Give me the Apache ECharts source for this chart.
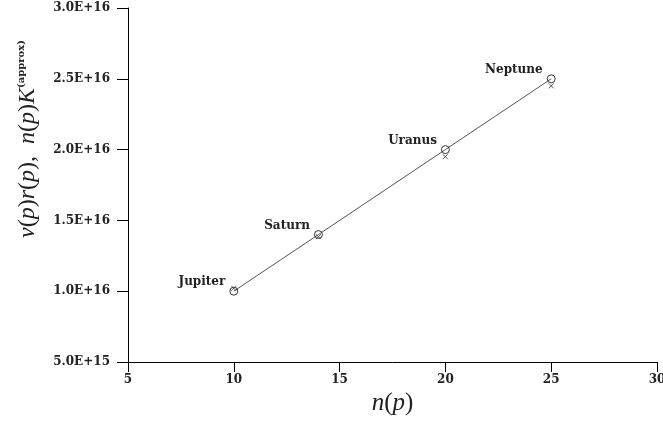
<!DOCTYPE html>
<html>
<head>
<meta charset="utf-8">
<script src="https://cdn.jsdelivr.net/npm/echarts@6/dist/echarts.min.js"></script>
<style>html,body{margin:0;padding:0;background:#fff}#c{width:663px;height:426px}</style>
</head>
<body>
<div id="c"></div>
<script>
var planets = ['Jupiter', 'Saturn', 'Uranus', 'Neptune'];
var nValues = [10, 14, 20, 25];
var exactValues = [1.0e16, 1.4e16, 2.0e16, 2.5e16];
var approxValues = [1.02e16, 1.385e16, 1.95e16, 2.45e16];
var yTickLabels = ['5.0E+15', '1.0E+16', '1.5E+16', '2.0E+16', '2.5E+16', '3.0E+16'];
var xTickLabels = ['5', '10', '15', '20', '25', '30'];

var chart = echarts.init(document.getElementById('c'));
var serif = 'DejaVu Serif';
var math = 'Liberation Serif';

chart.setOption({
  animation: false,
  backgroundColor: '#fff',
  grid: { left: 128, right: 6, top: 8, bottom: 64, outerBoundsMode: 'none', containLabel: false },
  xAxis: {
    type: 'value', min: 5, max: 30, interval: 5,
    name: '{i|n}({i|p})',
    nameLocation: 'middle', nameGap: 29,
    nameTextStyle: { fontFamily: math, fontSize: 25, color: '#222',
      rich: { i: { fontFamily: math, fontStyle: 'italic', fontSize: 25, color: '#222' } } },
    axisLine: { show: true, lineStyle: { color: '#000', width: 1 } },
    axisTick: { show: true, length: 10, inside: false, lineStyle: { color: '#000' } },
    axisLabel: { fontFamily: serif, fontSize: 12, fontWeight: 'bold', color: '#222', margin: 12,
      formatter: function (v) { return xTickLabels[Math.round((v - 5) / 5)]; } },
    splitLine: { show: false }
  },
  yAxis: {
    type: 'value', min: 5e15, max: 3e16, interval: 5e15,
    name: '{i|v}({i|p}){i|r}({i|p}),  {i|n}({i|p}){i|K}{s|(approx)}',
    nameLocation: 'middle', nameGap: 88, nameRotate: 90,
    nameTextStyle: { fontFamily: math, fontSize: 24, color: '#222', padding: [0, 0, 0, 92],
      rich: {
        i: { fontFamily: math, fontStyle: 'italic', fontSize: 24, color: '#222' },
        s: { fontFamily: serif, fontSize: 10, fontWeight: 'bold', color: '#222', verticalAlign: 'top', padding: [0, 0, 14, 0] }
      } },
    axisLine: { show: true, lineStyle: { color: '#000', width: 1 } },
    axisTick: { show: true, length: 11, inside: false, lineStyle: { color: '#000' } },
    axisLabel: { fontFamily: serif, fontSize: 12, fontWeight: 'bold', color: '#222', margin: 18,
      formatter: function (v) { return yTickLabels[Math.round((v - 5e15) / 5e15)]; } },
    splitLine: { show: false }
  },
  series: [
    {
      type: 'line',
      data: nValues.map(function (n, i) { return [n, exactValues[i]]; }),
      symbol: 'circle', symbolSize: 8,
      itemStyle: { color: 'rgba(255,255,255,0)', borderColor: '#333', borderWidth: 1 },
      lineStyle: { color: '#555', width: 1 },
      label: {
        show: true, position: 'left', distance: 4, offset: [0, -9],
        fontFamily: serif, fontSize: 12, fontWeight: 'bold', color: '#222',
        formatter: function (p) { return planets[p.dataIndex]; }
      },
      z: 2
    },
    {
      type: 'scatter',
      data: nValues.map(function (n, i) { return [n, approxValues[i]]; }),
      symbol: 'path://M0,0L10,10M10,0L0,10', symbolSize: 5,
      itemStyle: { color: 'rgba(0,0,0,0)', borderColor: '#333', borderWidth: 1 },
      z: 3
    }
  ]
});
</script>
</body>
</html>
